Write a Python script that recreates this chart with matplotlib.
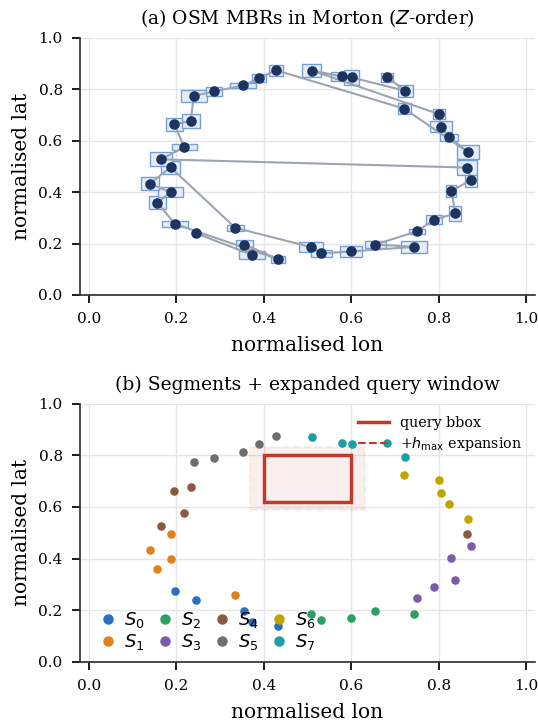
import numpy as np
import matplotlib
matplotlib.use('Agg')
import matplotlib.pyplot as plt
from matplotlib.patches import Rectangle
from matplotlib.lines import Line2D

# MBR centres (normalised lon / lat) and MBR extents
lon = [0.428, 0.389, 0.353, 0.286, 0.240, 0.233, 0.196, 0.218, 0.166, 0.187,
       0.140, 0.187, 0.157, 0.197, 0.245, 0.335, 0.356, 0.373, 0.433, 0.508,
       0.532, 0.599, 0.655, 0.744, 0.750, 0.789, 0.838, 0.829, 0.874, 0.865,
       0.867, 0.824, 0.805, 0.800, 0.721, 0.724, 0.682, 0.601, 0.579, 0.510]
lat = [0.873, 0.842, 0.814, 0.791, 0.773, 0.676, 0.663, 0.575, 0.527, 0.496,
       0.433, 0.399, 0.359, 0.276, 0.240, 0.261, 0.196, 0.156, 0.139, 0.186,
       0.162, 0.169, 0.196, 0.187, 0.247, 0.292, 0.317, 0.404, 0.447, 0.495,
       0.555, 0.613, 0.653, 0.703, 0.724, 0.793, 0.846, 0.845, 0.849, 0.872]
mbr_w = [0.034, 0.031, 0.059, 0.038, 0.059, 0.041, 0.041, 0.057, 0.050, 0.045,
         0.039, 0.056, 0.037, 0.058, 0.010, 0.038, 0.041, 0.058, 0.033, 0.053,
         0.048, 0.050, 0.048, 0.059, 0.035, 0.037, 0.028, 0.023, 0.029, 0.045,
         0.051, 0.041, 0.051, 0.028, 0.029, 0.035, 0.028, 0.035, 0.049, 0.044]
mbr_h = [0.043, 0.031, 0.023, 0.035, 0.050, 0.052, 0.049, 0.023, 0.054, 0.052,
         0.053, 0.040, 0.053, 0.023, 0.010, 0.023, 0.034, 0.032, 0.028, 0.040,
         0.025, 0.043, 0.028, 0.048, 0.022, 0.034, 0.056, 0.048, 0.054, 0.057,
         0.053, 0.026, 0.043, 0.041, 0.045, 0.047, 0.035, 0.058, 0.036, 0.047]

seg_size = 5
seg_colors = ['#2a70c0', '#e0821c', '#2ca062', '#7b5cac', '#8c5a42',
              '#6e6e6e', '#bda600', '#1c9fa0']

# query window and expansion
q_lon = [0.40, 0.60]
q_lat = [0.62, 0.80]
h_max = 0.032


def morton(x, y, bits=16):
	xi = int(x * (2**bits - 1))
	yi = int(y * (2**bits - 1))
	key = 0
	for b in range(bits):
		key |= ((xi >> b) & 1) << (2 * b)
		key |= ((yi >> b) & 1) << (2 * b + 1)
	return key


order = sorted(range(len(lon)), key=lambda i: morton(lon[i], lat[i]))
x = np.array(lon)[order]
y = np.array(lat)[order]
w = np.array(mbr_w)[order]
h = np.array(mbr_h)[order]

plt.rcParams.update({
	'font.family': 'DejaVu Serif',
	'mathtext.fontset': 'dejavusans',
	'axes.edgecolor': '#333333',
	'axes.linewidth': 1.25,
	'axes.grid': True,
	'grid.color': '#e6e6e6',
	'grid.linewidth': 1.0,
	'xtick.major.size': 6,
	'ytick.major.size': 6,
	'xtick.major.width': 1.25,
	'ytick.major.width': 1.25,
	'xtick.major.pad': 6.5,
	'ytick.major.pad': 6.5,
	'xtick.labelsize': 11,
	'ytick.labelsize': 11,
	'axes.labelsize': 14.5,
	'axes.titlesize': 13.5,
})

fig = plt.figure(figsize=(5.38, 7.23), dpi=100)
ax1 = fig.add_axes([0.1487, 0.592, 0.8457, 0.356])
ax2 = fig.add_axes([0.1487, 0.0844, 0.8457, 0.3575])

for xi, yi, wi, hi in zip(x, y, w, h):
	ax1.add_patch(Rectangle((xi - wi / 2, yi - hi / 2), wi, hi,
							facecolor='#e6edf7', edgecolor='#73a0da', lw=1.0, zorder=2))
ax1.plot(x, y, color='#9ba4b2', lw=1.5, zorder=3)
ax1.scatter(x, y, s=58, color='#1d3461', zorder=4, linewidths=0)
ax1.set_title('(a) OSM MBRs in Morton ($Z$-order)', pad=10)

# expanded window, then the query bbox on top
ax2.add_patch(Rectangle((q_lon[0] - h_max, q_lat[0] - h_max),
						q_lon[1] - q_lon[0] + 2 * h_max, q_lat[1] - q_lat[0] + 2 * h_max,
						facecolor=(0.75, 0.22, 0.17, 0.08), edgecolor=(0.75, 0.22, 0.17, 0.06),
						lw=1.5, ls='--', zorder=2))
ax2.add_patch(Rectangle((q_lon[0], q_lat[0]), q_lon[1] - q_lon[0], q_lat[1] - q_lat[0],
						facecolor='none', edgecolor='#c0392b', lw=2.5, zorder=3))

seg_handles = []
for k in range(len(x) // seg_size):
	sl = slice(k * seg_size, (k + 1) * seg_size)
	ax2.scatter(x[sl], y[sl], s=38, color=seg_colors[k], zorder=4, linewidths=0)
	seg_handles.append(Line2D([], [], marker='o', ls='', ms=6.5, color=seg_colors[k],
							  label='$S_{%d}$' % k))

box_handles = [Line2D([], [], color='#c0392b', lw=2.5, label='query bbox'),
			   Line2D([], [], color='#c0392b', lw=1.5, ls='--', label=r'+$h_{\max}$ expansion')]
leg1 = ax2.legend(handles=box_handles, loc='upper right', frameon=False, fontsize=10.3,
				  borderaxespad=0.5, handlelength=2.2, handletextpad=0.77, labelspacing=0.35)
ax2.add_artist(leg1)
ax2.legend(handles=seg_handles, loc='lower left', bbox_to_anchor=(0.02, 0.0), ncol=4,
		   frameon=False, fontsize=13, handlelength=1.0, handletextpad=0.4,
		   columnspacing=0.62, borderaxespad=0.15, labelspacing=0.1)
ax2.set_title('(b) Segments + expanded query window', pad=10)

for ax in (ax1, ax2):
	ax.set_xlim(-0.02, 1.02)
	ax.set_ylim(0, 1)
	ax.set_xticks(np.arange(0, 1.01, 0.2))
	ax.set_yticks(np.arange(0, 1.01, 0.2))
	ax.set_xlabel('normalised lon', labelpad=7)
	ax.set_ylabel('normalised lat', labelpad=5)
	ax.spines['top'].set_visible(False)
	ax.spines['right'].set_visible(False)
	ax.set_axisbelow(True)

fig.savefig('out.png', dpi=100)
